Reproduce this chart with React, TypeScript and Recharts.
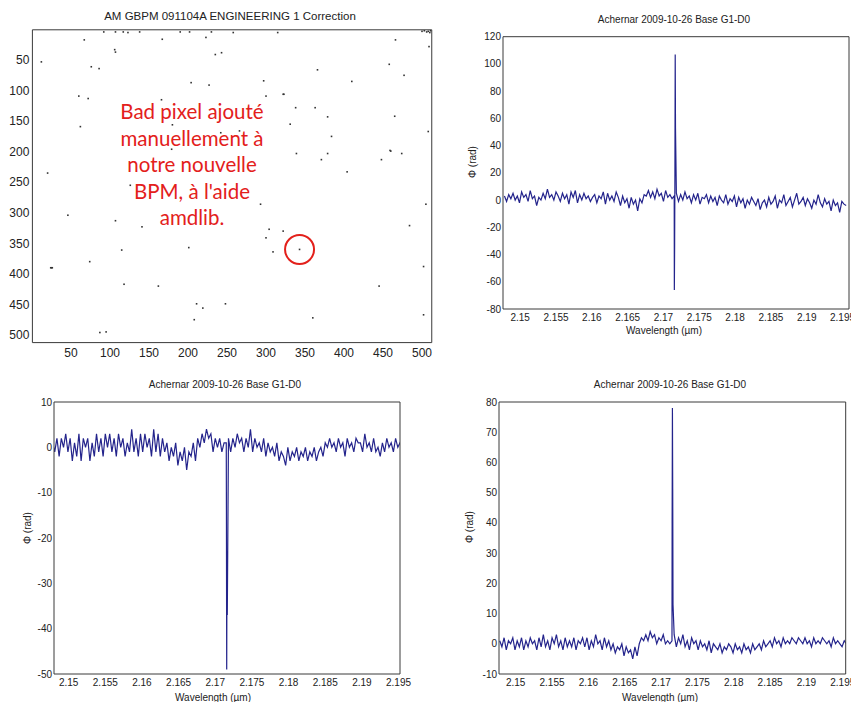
import React from "react";
import { ScatterChart, Scatter, LineChart, Line, XAxis, YAxis, ReferenceDot } from "recharts";

const FONT = "'Liberation Sans', Arial, Helvetica, sans-serif";
const AXIS_COLOR = "#3a3a3a";
const TEXT_COLOR = "#222";
const LINE_COLOR = "#24248c";

// ---- Panel 1: bad pixel map ----
const MAP_TITLE = "AM GBPM 091104A ENGINEERING 1 Correction";
const MAP_TICKS = [50, 100, 150, 200, 250, 300, 350, 400, 450, 500];
const BAD_X = [67, 12, 106, 107, 167, 223, 235, 243, 76, 86, 60, 72, 204, 227, 297, 300, 322, 323, 366, 410, 466, 458, 477, 62, 166, 180, 179, 242, 266, 338, 363, 379, 331, 384, 465, 339, 379, 371, 459, 460, 474, 448, 404, 505, 20, 126, 293, 46, 107, 141, 304, 322, 300, 484, 201, 309, 343, 115, 74, 24, 25, 26, 118, 162, 502, 445, 211, 219, 248, 208, 360, 502, 87, 95, 92, 107, 117, 123, 138, 190, 202, 230, 258, 315, 500, 503, 506, 508, 510, 511, 509, 508];
const BAD_Y = [17, 53, 33, 37, 16, 13, 41, 38, 61, 64, 109, 113, 87, 91, 84, 109, 106, 106, 66, 85, 17, 57, 75, 159, 115, 156, 196, 169, 166, 128, 128, 143, 155, 175, 142, 203, 203, 213, 198, 199, 203, 213, 233, 286, 235, 255, 286, 304, 313, 323, 327, 330, 341, 321, 357, 364, 360, 361, 380, 390, 390, 390, 417, 420, 388, 420, 449, 456, 449, 475, 472, 467, 496, 495, 4, 4, 4, 5, 4, 4, 4, 4, 5, 5, 3, 2, 4, 3, 5, 2, 28, 167];
const NOTE_LINES = ["Bad pixel ajouté", "manuellement à", "notre nouvelle", "BPM, à l'aide", "amdlib."];
const CIRCLE_X = 343;
const CIRCLE_Y = 360;

// ---- Phase panels ----
const PHASE_TITLE = "Achernar  2009-10-26  Base G1-D0";
const X_LABEL = "Wavelength (µm)";
const Y_LABEL = "Φ  (rad)";
const WL_START = 2.1478;
const WL_STEP = 0.0003;
const WL_TICKS = [2.15, 2.155, 2.16, 2.165, 2.17, 2.175, 2.18, 2.185, 2.19, 2.195];

const PHI_A = [
  3, -1, 4, 1, 5, 0, 3, -2, 6, 2,
  4, -1, 7, 1, 3, -4, 2, 0, 5, 1,
  8, 2, 4, 0, 6, 3, -1, 5, 1, 4,
  -3, 6, 2, 7, -2, 4, 0, 5, 1, 3,
  -1, 2, 4, -2, 3, 1, 6, -3, 5, 0,
  3, -1, 6, 2, -4, 3, -2, 1, -6, 2,
  -3, 0, -8, 1, -2, 4, 3, 7, 2, 6,
  1, 8, 3, 5, -1, 7, 2, 4, 1, 3,
  5, -1, 4, 0, 6, 1, 3, -2, 4, 0,
  5, -3, 2, 1, 4, -2, 3, -1, 2, -4,
  3, 0, -2, 4, -3, 1, -1, 3, -5, 2,
  -2, 1, -6, 0, -3, 2, -1, -4, 1, -7,
  -2, 0, -5, 2, -3, -1, 3, -6, 0, -2,
  4, -4, -1, 2, -5, 0, 5, -3, -1, 2,
  -4, 1, -2, -6, 0, -3, 4, -2, -5, 1,
  -3, -1, -8, 0, -4, -2, -9, -1, -3, -4,
];
const SPIKE_A_WL = [2.17152, 2.17156, 2.1716, 2.17164, 2.17168];
const SPIKE_A_PHI = [-66, -32, 20, 107, 53];
const TICKS_A = [-80, -60, -40, -20, 0, 20, 40, 60, 80, 100, 120];

const PHI_B = [
  1, -1, 2, -2, 2, 0, 3, -1, 2, -3,
  1, -2, 3, -3, 2, 0, 2, -3, 1, -2,
  3, -1, 2, -2, 3, 0, 3, -1, 2, -2,
  3, 0, 2, -2, 1, -1, 4, -1, 2, -2,
  3, -1, 3, 0, 2, -2, 4, -1, 3, -2,
  2, -1, 1, -3, 0, -2, 1, -4, -1, -3,
  0, -5, -1, -2, 1, -3, 2, 0, 3, 1,
  4, 2, 3, -1, 2, 0, 2, -1, 1, 1,
  2, -1, 2, 0, 3, 1, 2, -1, 2, 0,
  4, -1, 2, 0, 1, -1, 2, -2, 1, -1,
  0, -2, 1, -3, -1, -2, -4, 0, -3, -1,
  -2, 0, -3, -1, -2, 0, -3, -1, -2, 0,
  -3, -1, 0, -2, 1, 0, 2, 0, 1, -1,
  2, 0, 1, -2, 2, 0, 1, -1, 2, 1,
  1, -1, 3, 0, 1, -1, 2, -1, 0, -2,
  1, -1, 2, 0, 1, -1, 2, 0, 1, 0,
];
const SPIKE_B_WL = [2.17152, 2.17156, 2.1716, 2.17164];
const SPIKE_B_PHI = [-13, -49, -23, -37];
const TICKS_B = [-50, -40, -30, -20, -10, 0, 10];

const PHI_C = [
  1, -1, 2, -2, 1, 0, 2, -2, 1, -1,
  2, -2, 1, -1, 2, 0, 1, -2, 2, -1,
  3, -1, 1, -2, 2, 0, 3, -1, 1, -2,
  2, -1, 1, -1, 2, -2, 1, 0, 2, -1,
  2, -2, 1, -1, 3, 0, 1, -2, 2, -1,
  1, -2, 0, -3, -1, -2, 0, -4, -1, -3,
  -2, -5, -1, -4, 0, 2, 1, 3, 1, 4,
  2, 3, 0, 2, 1, 3, 0, 1, 0, 1,
  3, -1, 2, 0, 3, -1, 1, -2, 2, 0,
  1, -2, 1, -1, 0, -2, 1, -3, 0, -1,
  -2, 0, -3, -1, -2, 0, -1, -3, 0, -2,
  -1, -3, 0, -2, -1, -3, 0, -2, -1, 0,
  -2, 1, -1, 0, 1, -1, 2, 0, 1, -1,
  2, 0, 1, 0, 2, 1, 0, 2, 1, 0,
  2, 0, 1, -1, 2, 0, 1, 0, 2, 1,
  0, 1, -1, 2, 0, 1, 0, -1, 1, 0,
];
const SPIKE_C_WL = [2.17152, 2.17156, 2.1716, 2.17164];
const SPIKE_C_PHI = [40, 78, 51, 13];
const TICKS_C = [-10, 0, 10, 20, 30, 40, 50, 60, 70, 80];

type Pt = { wl: number; phi: number };

function buildSeries(phi: number[], spikeWl: number[], spikePhi: number[]): Pt[] {
  const base = phi.map((p, i) => ({ wl: +(WL_START + i * WL_STEP).toFixed(5), phi: p }));
  const spikes = spikeWl.map((w, i) => ({ wl: w, phi: spikePhi[i] }));
  return base.concat(spikes).sort((a, b) => a.wl - b.wl);
}

const DATA_A = buildSeries(PHI_A, SPIKE_A_WL, SPIKE_A_PHI);
const DATA_B = buildSeries(PHI_B, SPIKE_B_WL, SPIKE_B_PHI);
const DATA_C = buildSeries(PHI_C, SPIKE_C_WL, SPIKE_C_PHI);
const MAP_DATA = BAD_X.map((x, i) => ({ x, y: BAD_Y[i] }));

const PixelShape = (props: any) => {
  const { cx, cy } = props;
  return <rect x={cx - 0.8} y={cy - 0.8} width={1.6} height={1.6} fill="#333" />;
};

type PhaseProps = {
  width: number;
  height: number;
  margin: { top: number; right: number; bottom: number; left: number };
  yWidth: number;
  xDomain: [number, number];
  yDomain: [number, number];
  yTicks: number[];
  data: Pt[];
};

function PhaseChart({ width, height, margin, yWidth, xDomain, yDomain, yTicks, data }: PhaseProps) {
  const tickStyle = { fontSize: 10, fill: TEXT_COLOR, fontFamily: FONT };
  const axisLineStyle = { stroke: AXIS_COLOR, strokeWidth: 1 };
  return (
    <LineChart width={width} height={height} data={data} margin={margin}>
      <XAxis xAxisId="b" dataKey="wl" type="number" domain={xDomain} allowDataOverflow ticks={WL_TICKS} interval={0}
        tickFormatter={(v: number) => String(v)} tick={tickStyle} tickLine={false} axisLine={false} tickSize={0} tickMargin={5} height={20} />
      <XAxis xAxisId="bm" dataKey="wl" type="number" domain={xDomain} allowDataOverflow ticks={WL_TICKS} interval={0}
        mirror tick={false} tickSize={4} tickLine={axisLineStyle} axisLine={axisLineStyle} />
      <XAxis xAxisId="tm" dataKey="wl" type="number" orientation="top" domain={xDomain} allowDataOverflow ticks={WL_TICKS} interval={0}
        mirror tick={false} tickSize={4} tickLine={axisLineStyle} axisLine={axisLineStyle} />
      <YAxis yAxisId="l" type="number" domain={yDomain} allowDataOverflow ticks={yTicks} interval={0} width={yWidth}
        tick={tickStyle} tickLine={false} axisLine={false} tickSize={0} tickMargin={2} />
      <YAxis yAxisId="lm" type="number" domain={yDomain} allowDataOverflow ticks={yTicks} interval={0}
        mirror tick={false} tickSize={4} tickLine={axisLineStyle} axisLine={axisLineStyle} />
      <YAxis yAxisId="rm" type="number" orientation="right" domain={yDomain} allowDataOverflow ticks={yTicks} interval={0}
        mirror tick={false} tickSize={4} tickLine={axisLineStyle} axisLine={axisLineStyle} />
      <Line xAxisId="b" yAxisId="l" dataKey="phi" type="linear" stroke={LINE_COLOR} strokeWidth={1.2}
        dot={false} activeDot={false} isAnimationActive={false} />
    </LineChart>
  );
}

const abs = (left: number, top: number): React.CSSProperties => ({ position: "absolute", left, top });

function CenteredText({ cx, cy, text, size, color = TEXT_COLOR, rotate = false }: { cx: number; cy: number; text: string; size: number; color?: string; rotate?: boolean }) {
  return (
    <div style={{
      position: "absolute", left: cx - 150, top: cy - 10, width: 300, height: 20, lineHeight: "20px",
      textAlign: "center", fontSize: size, fontFamily: FONT, color, whiteSpace: "nowrap",
      transform: rotate ? "rotate(-90deg)" : undefined,
    }}>{text}</div>
  );
}

export default function App() {
  const mapTick = { fontSize: 12, fill: TEXT_COLOR, fontFamily: FONT };
  const mapLine = { stroke: AXIS_COLOR, strokeWidth: 1 };
  return (
    <div style={{ position: "absolute", left: 0, top: 0, width: 851, height: 702, background: "#fff", overflow: "hidden" }}>
      {/* Panel 1 */}
      <div style={abs(0, 0)}>
        <ScatterChart width={440} height={370} margin={{ top: 29.8, right: 8.25, bottom: 0, left: 0 }}>
          <XAxis xAxisId="b" dataKey="x" type="number" domain={[0.5, 512.5]} allowDataOverflow ticks={MAP_TICKS} interval={0}
            tick={mapTick} tickLine={false} axisLine={false} tickSize={0} tickMargin={6} height={27.4} />
          <XAxis xAxisId="bm" dataKey="x" type="number" domain={[0.5, 512.5]} allowDataOverflow ticks={MAP_TICKS} interval={0}
            mirror tick={false} tickSize={4} tickLine={mapLine} axisLine={mapLine} />
          <XAxis xAxisId="tm" dataKey="x" type="number" orientation="top" domain={[0.5, 512.5]} allowDataOverflow ticks={MAP_TICKS} interval={0}
            mirror tick={false} tickSize={4} tickLine={mapLine} axisLine={mapLine} />
          <YAxis yAxisId="l" dataKey="y" type="number" reversed domain={[0.5, 512.5]} allowDataOverflow ticks={MAP_TICKS} interval={0} width={32.4}
            tick={mapTick} tickLine={false} axisLine={false} tickSize={0} tickMargin={3} />
          <YAxis yAxisId="lm" dataKey="y" type="number" reversed domain={[0.5, 512.5]} allowDataOverflow ticks={MAP_TICKS} interval={0}
            mirror tick={false} tickSize={4} tickLine={mapLine} axisLine={mapLine} />
          <YAxis yAxisId="rm" dataKey="y" type="number" orientation="right" reversed domain={[0.5, 512.5]} allowDataOverflow ticks={MAP_TICKS} interval={0}
            mirror tick={false} tickSize={4} tickLine={mapLine} axisLine={mapLine} />
          <Scatter xAxisId="b" yAxisId="l" data={MAP_DATA} shape={PixelShape} isAnimationActive={false} />
          <ReferenceDot xAxisId="b" yAxisId="l" x={CIRCLE_X} y={CIRCLE_Y} r={14.5} fill="none" stroke="#e3201b" strokeWidth={2} ifOverflow="visible" />
        </ScatterChart>
      </div>
      <CenteredText cx={230} cy={16} text={MAP_TITLE} size={11.5} />
      <div style={{ position: "absolute", left: 82, top: 98, width: 220, textAlign: "center", fontFamily: "Lato, 'Open Sans', sans-serif", fontSize: 20.5, lineHeight: "26.6px", color: "#e3201b" }}>
        {NOTE_LINES.map((l, i) => <div key={i}>{l}</div>)}
      </div>

      {/* Panel 2: top right */}
      <div style={abs(440, 0)}>
        <PhaseChart width={411} height={350} margin={{ top: 36.7, right: 2, bottom: 21, left: 0 }} yWidth={63}
          xDomain={[2.1476, 2.1959]} yDomain={[-80, 120]} yTicks={TICKS_A} data={DATA_A} />
      </div>
      <CenteredText cx={674} cy={20} text={PHASE_TITLE} size={10} />
      <CenteredText cx={664} cy={331} text={X_LABEL} size={10} />
      <CenteredText cx={473} cy={162} text={Y_LABEL} size={10} rotate />

      {/* Panel 3: bottom left */}
      <div style={abs(0, 370)}>
        <PhaseChart width={420} height={332} margin={{ top: 32, right: 20, bottom: 8, left: 0 }} yWidth={54}
          xDomain={[2.148, 2.1952]} yDomain={[-50, 10]} yTicks={TICKS_B} data={DATA_B} />
      </div>
      <CenteredText cx={225} cy={385} text={PHASE_TITLE} size={10} />
      <CenteredText cx={213} cy={698} text={X_LABEL} size={10} />
      <CenteredText cx={28} cy={528} text={Y_LABEL} size={10} rotate />

      {/* Panel 4: bottom right */}
      <div style={abs(430, 370)}>
        <PhaseChart width={421} height={332} margin={{ top: 32, right: 5.3, bottom: 8, left: 0 }} yWidth={69}
          xDomain={[2.1477, 2.1954]} yDomain={[-10, 80]} yTicks={TICKS_C} data={DATA_C} />
      </div>
      <CenteredText cx={670} cy={385} text={PHASE_TITLE} size={10} />
      <CenteredText cx={660} cy={698} text={X_LABEL} size={10} />
      <CenteredText cx={470} cy={527} text={Y_LABEL} size={10} rotate />
    </div>
  );
}
